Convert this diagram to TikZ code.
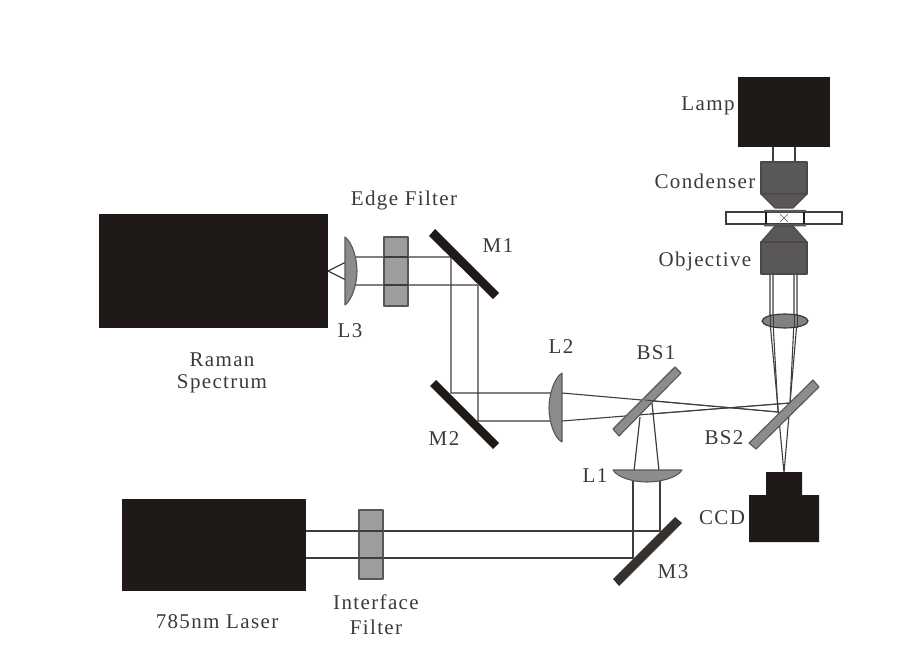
\documentclass[tikz,border=0pt]{standalone}
\usepackage{fontspec}
\setmainfont[LetterSpace=6.5]{Liberation Serif}
\definecolor{ink}{HTML}{1F1A17}
\definecolor{dk}{HTML}{595757}
\definecolor{mid}{HTML}{8C8C8C}
\definecolor{lab}{HTML}{3A3A3A}
\tikzset{
 lbl/.style={text=lab,font=\fontsize{21}{26}\selectfont,inner sep=0pt,align=center,yshift=-1.5pt},
 solid box/.style={fill=ink,draw=none},
 ray/.style={draw=dk!70!black,line width=1.2pt},
 dark part/.style={fill=dk,draw=ink!80,line width=1.1pt,line join=round},
 optic/.style={fill=mid,draw=dk,line width=1.1pt,line join=round},
 mirror/.style={fill=ink,draw=none},
}
\begin{document}
\begin{tikzpicture}[x=1pt,y=-1pt]
\useasboundingbox (0,0) rectangle (904,668);
% beam coordinates
\coordinate (a1) at (328,271);
\coordinate (l3u) at (356,257);
\coordinate (l3d) at (356,285);
\coordinate (m1u) at (451,257);
\coordinate (m1d) at (478,285);
\coordinate (m2u) at (451,393);
\coordinate (m2d) at (478,421);
\coordinate (l2u) at (562,393);
\coordinate (l2d) at (562,421);
\coordinate (bs2u) at (778,412);
\coordinate (bs2d) at (790,403);
\coordinate (ccd) at (784,473);
\coordinate (bsa) at (640,417);
\coordinate (bsb) at (652,403);
\coordinate (l1a) at (634,471);
\coordinate (l1b) at (659,471);
\coordinate (l1c) at (633,480);
\coordinate (l1d) at (660,480);
\coordinate (m3a) at (633,558);
\coordinate (m3b) at (660,531);
\coordinate (las1) at (305,531);
\coordinate (las2) at (305,558);
% rays
\draw[ray] (a1)--(l3u)--(m1u)--(m2u)--(l2u);
\draw[ray] (a1)--(l3d)--(m1d)--(m2d)--(l2d);
\draw[ray,line width=1.1pt] (l2u)--(bs2u);
\draw[ray,line width=1.1pt] (l2d)--(bs2d);
\draw[ray] (bsa)--(l1a) (bsb)--(l1b);
\draw[ray] (l1c)--(m3a)--(las2) (l1d)--(m3b)--(las1);
% objective rays
\coordinate (oa) at (770,274); \coordinate (ob) at (773,274);
\coordinate (oc) at (794,274); \coordinate (od) at (797,274);
\draw[ray,line width=1.1pt] (oa)--(770,322)--(ccd) (od)--(797,322)--(ccd);
\draw[ray,line width=1.1pt] (ob)--(773,322)--(bs2u) (oc)--(794,322)--(bs2d);
\draw[ray,line width=1.4pt] (773,147)--(773,162) (795,147)--(795,162);
% boxes
\node[solid box,minimum width=229pt,minimum height=114pt,inner sep=0pt] (raman) at (213.5,271) {};
\node[solid box,minimum width=184pt,minimum height=92pt,inner sep=0pt] (laser) at (214,545) {};
\node[solid box,minimum width=92pt,minimum height=70pt,inner sep=0pt] (lamp) at (784,112) {};
% filters
\draw[optic,fill opacity=.85] (384,237) rectangle (408,306);
\draw[optic,fill opacity=.85] (359,510) rectangle (383,579);
\draw[ray] (384,257)--(408,257) (384,285)--(408,285) (359,531)--(383,531) (359,558)--(383,558);
% lenses
\draw[optic] (345,237) .. controls (352,242) and (357,258) .. (357,271) .. controls (357,284) and (352,300) .. (345,305) -- cycle;
\draw[optic] (562,373) .. controls (554,378) and (549,395) .. (549,408) .. controls (549,421) and (554,438) .. (562,442) -- cycle;
\draw[optic] (613,470) -- (682,470) .. controls (677,478) and (660,482) .. (647,482) .. controls (634,482) and (618,478) .. (613,470) -- cycle;
% mirrors
\fill[mirror] (435,229)--(499,293)--(493,299)--(429,236)--cycle;
\fill[mirror] (436,380)--(499,443)--(493,449)--(430,386)--cycle;
\fill[fill=ink!90!white] (675,517)--(682,523)--(619,586)--(613,579)--cycle;
% beam splitters
\draw[optic] (675,367)--(681,373)--(619,436)--(613,429)--cycle;
\draw[optic] (813,380)--(819,387)--(756,449)--(749,443)--cycle;
\draw[ray,line width=.9pt] (645,400)--(bs2u) (650,414)--(bs2d);
% condenser
\draw[dark part] (761,162) rectangle (807,194);
\draw[dark part] (761,194)--(807,194)--(793,208)--(775,208)--cycle;
\draw[fill=white,draw=ink!85,line width=1.4pt] (726,212) rectangle (842,224);
\fill[fill=dk] (764,210) rectangle (806,212.5) (764,224) rectangle (806,226.5);
\draw[ink,line width=1.2pt] (766,212)--(766,224) (804,212)--(804,224);
\draw[dk,line width=.6pt] (780,214)--(788,222) (788,214)--(780,222);
\draw[dark part] (775,226)--(793,226)--(807,242)--(761,242)--cycle;
\draw[dark part] (761,242) rectangle (807,274);
% tube lens
\draw[fill=dk!75!white,draw=ink!90,line width=1.1pt] (785,321) ellipse [x radius=23,y radius=7];
\draw[ray,line width=1pt] (770,314)--(770,328) (773,314)--(773,328) (794,314)--(794,328) (797,314)--(797,328);
% ccd
\fill[ink] (766,472)--(802,472)--(802,495)--(819,495)--(819,542)--(749,542)--(749,495)--(766,495)--cycle;
% labels
\node[lbl] (t1) at (708,104) {Lamp};
\node[lbl] (t2) at (705,180) {Condenser};
\node[lbl] (t3) at (705,260) {Objective};
\node[lbl] (t4) at (404,199) {Edge Filter};
\node[lbl] (t5) at (498,244) {M1};
\node[lbl] (t6) at (350,329) {L3};
\node[lbl] (t7) at (222,358) {Raman};
\node[lbl] (t8) at (222,382) {Spectrum};
\node[lbl] (t9) at (561,345) {L2};
\node[lbl] (t10) at (656,351) {BS1};
\node[lbl] (t11) at (444,437) {M2};
\node[lbl] (t12) at (724,436) {BS2};
\node[lbl] (t13) at (595,474) {L1};
\node[lbl] (t14) at (722,516) {CCD};
\node[lbl] (t15) at (673,570) {M3};
\node[lbl] (t16) at (217,620) {785nm Laser};
\node[lbl] (t17) at (376,601) {Interface};
\node[lbl] (t18) at (376,626) {Filter};
\end{tikzpicture}
\end{document}
